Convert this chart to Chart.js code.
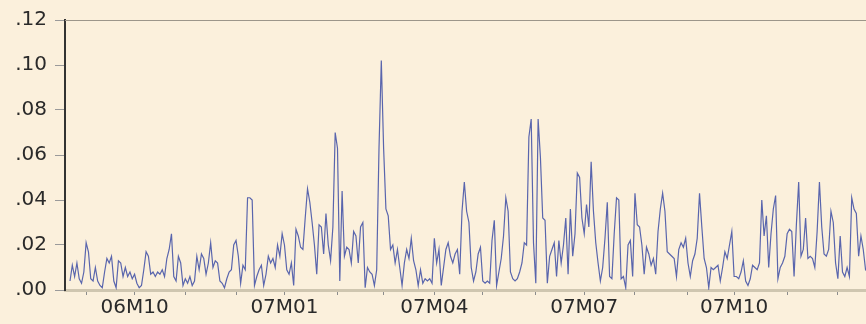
<!DOCTYPE html>
<html><head><meta charset="utf-8">
<script src="https://cdn.jsdelivr.net/npm/chart.js@4"></script>
<style>
html,body{margin:0;padding:0;background:#fbf0dc;overflow:hidden;width:866px;height:324px}
#wrap{position:absolute;left:0;top:0;width:900px;height:324px}
</style></head><body>
<div id="wrap"><canvas id="c" width="900" height="324"></canvas></div>
<script>
// First business day of the series
const startDate = '2006-08-23';

// Daily values, in chronological order
const valuesA = [0.004,0.011,0.006,0.012,0.005,0.003,0.008,0.021,0.017,0.005,
0.004,0.010,0.004,0.002,0.001,0.008,0.014,0.012,0.015,0.004,
0.001,0.013,0.012,0.006,0.010,0.006,0.008,0.005,0.007,0.003,
0.001,0.002,0.009,0.017,0.015,0.007,0.008,0.006,0.008,0.007,
0.009,0.006,0.014,0.018,0.025,0.006,0.004,0.015,0.012,0.002,
0.005,0.003,0.006,0.002,0.004,0.015,0.009];
const valuesB = [0.016,0.014,0.007,0.012,0.021,0.010,0.013,0.012,0.004,0.003,
0.001,0.005,0.008,0.009,0.020,0.022,0.015,0.003,0.011,0.009,
0.041,0.041,0.040,0.002,0.006,0.009,0.011,0.002,0.007,0.015,
0.012,0.014,0.010,0.020,0.015,0.025,0.020,0.009,0.007,0.012,
0.002,0.027,0.024,0.019,0.018,0.032,0.045,0.039,0.030,0.020,
0.007,0.029,0.028,0.016,0.034,0.020,0.013,0.028];
const valuesC = [0.070,0.063,0.004,0.044,0.015,0.019,0.018,0.012,0.026,0.024,
0.012,0.028,0.030,0.001,0.010,0.008,0.007,0.002,0.009,0.063,
0.102,0.063,0.036,0.033,0.018,0.020,0.012,0.018,0.010,0.002,
0.012,0.018,0.014,0.023,0.013,0.009,0.002,0.009,0.003,0.005,
0.004,0.005,0.003,0.023,0.012,0.018,0.002,0.010,0.018,0.021,
0.015,0.012,0.016,0.018,0.007,0.035,0.048,0.035];
const valuesD = [0.030,0.010,0.004,0.008,0.016,0.019,0.004,0.003,0.004,0.003,
0.022,0.031,0.002,0.008,0.014,0.024,0.041,0.035,0.008,0.005,
0.004,0.005,0.008,0.012,0.021,0.020,0.068,0.076,0.021,0.003,
0.076,0.059,0.032,0.031,0.003,0.015,0.018,0.021,0.006,0.022,
0.012,0.020,0.032,0.007,0.036,0.015,0.025,0.052,0.050,0.032,
0.025,0.038,0.028,0.057,0.035,0.021,0.012,0.004];
const valuesE = [0.010,0.023,0.039,0.006,0.005,0.025,0.041,0.040,0.005,0.006,
0.001,0.020,0.022,0.006,0.043,0.029,0.028,0.020,0.007,0.019,
0.016,0.011,0.014,0.007,0.026,0.036,0.043,0.035,0.017,0.016,
0.015,0.014,0.006,0.018,0.021,0.019,0.023,0.012,0.006,0.013,
0.016,0.023,0.043,0.028,0.014,0.010,0.001,0.010,0.009,0.010,
0.011,0.004,0.010,0.017,0.014,0.020,0.026,0.006];
const valuesF = [0.006,0.005,0.008,0.013,0.004,0.002,0.005,0.011,0.010,0.009,
0.012,0.040,0.024,0.033,0.010,0.025,0.036,0.042,0.005,0.010,
0.012,0.015,0.025,0.027,0.026,0.006,0.029,0.048,0.015,0.018,
0.032,0.014,0.015,0.014,0.010,0.026,0.048,0.028,0.016,0.015,
0.018,0.035,0.030,0.012,0.005,0.024,0.008,0.006,0.010,0.006,
0.041,0.036,0.034,0.015,0.024,0.018,0.009,0.010,0.018];

// Axis labels
const xTickLabels = ['06M10','07M01','07M04','07M07','07M10'];
const yTickLabels = ['.00','.02','.04','.06','.08','.10','.12'];

const values = [].concat(valuesA, valuesB, valuesC, valuesD, valuesE, valuesF);

// business-day calendar for the series
const dates = [];
let d = new Date(startDate + 'T00:00:00Z');
while (dates.length < values.length) {
  const w = d.getUTCDay();
  if (w !== 0 && w !== 6) dates.push(new Date(d));
  d.setUTCDate(d.getUTCDate() + 1);
}
const monthStarts = [];
const monthLabel = {};
dates.forEach((dt, i) => {
  if (i === 0) return;
  if (dt.getUTCMonth() !== dates[i-1].getUTCMonth()) {
    monthStarts.push(i);
    const lbl = String(dt.getUTCFullYear() % 100).padStart(2,'0') + 'M' + String(dt.getUTCMonth()+1).padStart(2,'0');
    monthLabel[i] = xTickLabels.includes(lbl) ? lbl : '';
  }
});

Chart.defaults.font.family = "'DejaVu Sans', sans-serif";

const topLine = {
  id: 'topLine',
  afterDraw(chart) {
    const {ctx, chartArea: a} = chart;
    ctx.save();
    ctx.strokeStyle = '#9c968a';
    ctx.lineWidth = 1;
    ctx.beginPath();
    ctx.moveTo(a.left, a.top + 0.5);
    ctx.lineTo(a.right + 20, a.top + 0.5);
    ctx.stroke();
    ctx.restore();
  }
};

new Chart(document.getElementById('c'), {
  type: 'line',
  data: {
    datasets: [{
      data: values.map((v, i) => ({x: i, y: v})),
      borderColor: '#5965ad',
      borderWidth: 1.2,
      pointRadius: 0,
      tension: 0,
      fill: false
    }]
  },
  options: {
    responsive: false,
    animation: false,
    layout: {padding: {left: 0, right: 10, top: 18, bottom: 0}},
    plugins: {legend: {display: false}, tooltip: {enabled: false}},
    scales: {
      x: {
        type: 'linear', min: -2.17, max: 355.6,
        afterBuildTicks: s => { s.ticks = monthStarts.map(v => ({value: v})); },
        afterFit: s => { s.height = 34; },
        ticks: {autoSkip: false, maxRotation: 0, callback: v => (monthLabel[v] ?? ''), color: '#2a2a2a', font: {size: 20}, padding: 1},
        grid: {drawOnChartArea: false, drawTicks: true, tickLength: 5, color: '#8c8c8c'},
        border: {color: '#cfc6b0', width: 3}
      },
      y: {
        min: 0, max: 0.12,
        afterBuildTicks: s => { s.ticks = yTickLabels.map(t => ({value: parseFloat('0' + t)})); },
        afterFit: s => { s.width = 65; },
        ticks: {autoSkip: false, callback: (v, i) => yTickLabels[i], color: '#2a2a2a', font: {size: 20}, padding: 8},
        grid: {drawOnChartArea: false, drawTicks: true, tickLength: 10, color: '#9a9a9a'},
        border: {color: '#333333', width: 2}
      }
    }
  },
  plugins: [topLine]
});
</script>
</body></html>
